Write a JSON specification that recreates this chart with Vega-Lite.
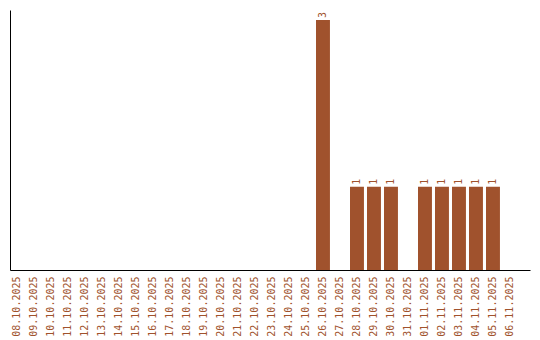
{
  "$schema": "https://vega.github.io/schema/vega-lite/v6.json",
  "width": 520,
  "height": 260,
  "autosize": "none",
  "padding": {"left": 10, "top": 10, "right": 10, "bottom": 70},
  "background": "white",
  "config": {"view": {"stroke": null}},
  "data": {
    "values": [
      {"date": "26.10.2025", "count": 3},
      {"date": "28.10.2025", "count": 1},
      {"date": "29.10.2025", "count": 1},
      {"date": "30.10.2025", "count": 1},
      {"date": "01.11.2025", "count": 1},
      {"date": "02.11.2025", "count": 1},
      {"date": "03.11.2025", "count": 1},
      {"date": "04.11.2025", "count": 1},
      {"date": "05.11.2025", "count": 1}
    ]
  },
  "encoding": {
    "x": {
      "field": "date",
      "type": "ordinal",
      "scale": {
        "domain": ["08.10.2025","09.10.2025","10.10.2025","11.10.2025","12.10.2025","13.10.2025","14.10.2025","15.10.2025","16.10.2025","17.10.2025","18.10.2025","19.10.2025","20.10.2025","21.10.2025","22.10.2025","23.10.2025","24.10.2025","25.10.2025","26.10.2025","27.10.2025","28.10.2025","29.10.2025","30.10.2025","31.10.2025","01.11.2025","02.11.2025","03.11.2025","04.11.2025","05.11.2025","06.11.2025"],
        "paddingInner": 0.18,
        "paddingOuter": 0.384,
        "align": 0
      },
      "axis": {
        "title": null,
        "labelAngle": -90,
        "labelFont": "DejaVu Sans Mono",
        "labelFontSize": 10,
        "labelColor": "#A0522D",
        "ticks": false,
        "tickSize": 0,
        "labelPadding": 6,
        "domainColor": "black",
        "domainWidth": 1,
        "grid": false
      }
    },
    "y": {
      "field": "count",
      "type": "quantitative",
      "scale": {"domain": [0, 3.12], "nice": false},
      "axis": {
        "title": null,
        "labels": false,
        "ticks": false,
        "grid": false,
        "domainColor": "black",
        "domainWidth": 1
      }
    }
  },
  "layer": [
    {"mark": {"type": "bar", "color": "#A0522D"}},
    {
      "mark": {
        "type": "text",
        "angle": 270,
        "align": "left",
        "baseline": "middle",
        "dx": 2,
        "font": "DejaVu Sans Mono",
        "fontSize": 10,
        "color": "#A0522D"
      },
      "encoding": {"text": {"field": "count", "type": "quantitative"}}
    }
  ]
}
